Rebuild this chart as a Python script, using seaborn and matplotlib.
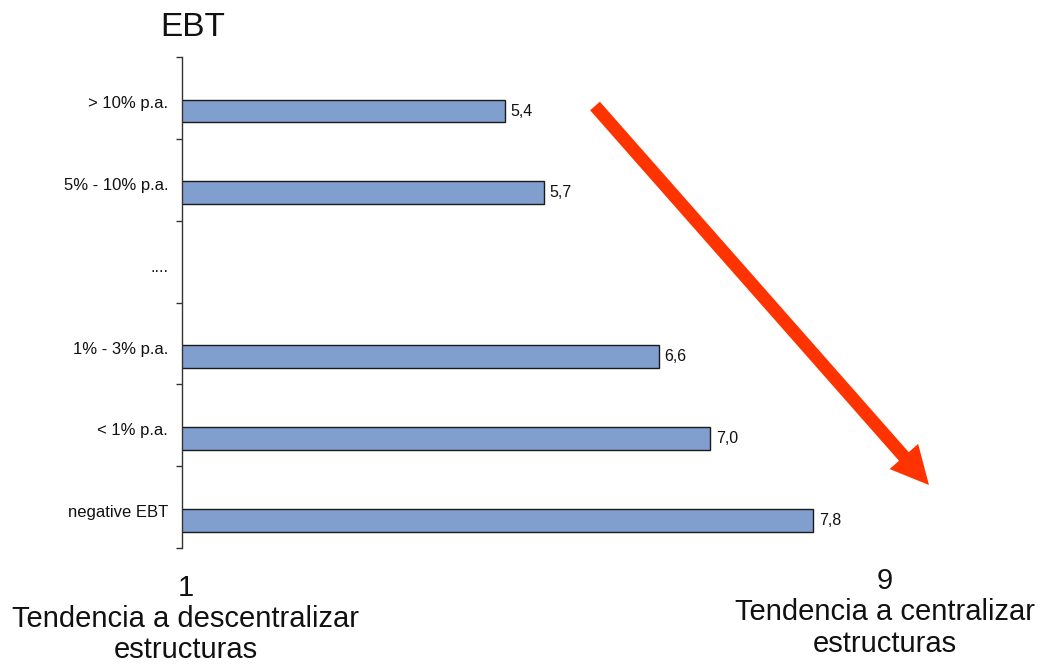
import matplotlib
matplotlib.use("Agg")
import matplotlib.pyplot as plt
import matplotlib.transforms as mtransforms
from matplotlib.patches import FancyArrow
import numpy as np
import pandas as pd
import seaborn as sns

# ---- data ----
categories = ["> 10% p.a.", "5% - 10% p.a.", "....", "1% - 3% p.a.", "< 1% p.a.", "negative EBT"]
values = [5.4, 5.7, np.nan, 6.6, 7.0, 7.8]
title_text = "EBT"
left_label = "1\nTendencia a descentralizar\nestructuras"
right_label = "9\nTendencia a centralizar\nestructuras"

sns.set_theme(style="white")
plt.rcParams["font.family"] = ["Liberation Sans", "DejaVu Sans"]

W, H = 1048, 668
fig = plt.figure(figsize=(W / 100, H / 100), dpi=100)
fig.patch.set_facecolor("white")

ax_left, ax_right, ax_top, ax_bottom = 182, 967, 57, 548
ax = fig.add_axes([ax_left / W, 1 - ax_bottom / H, (ax_right - ax_left) / W, (ax_bottom - ax_top) / H])

df = pd.DataFrame({"cat": categories, "val": values})
sns.barplot(data=df, y="cat", x="val", order=categories, orient="h",
            color="#819FCE", saturation=1, width=0.28,
            edgecolor="#1a1a1a", linewidth=1.0, ax=ax)

ax.set_xlim(2.88, 9.0)
n = len(categories)
ax.set_ylim(n - 1 + 0.34, -0.66)

# value labels
for i, v in enumerate(values):
    if not np.isnan(v):
        ax.annotate(f"{v:.1f}".replace(".", ","), xy=(v, i), xytext=(4, 0),
                    textcoords="offset points", ha="left", va="center",
                    fontsize=11.5, color="#111111")

# ticks: major = band boundaries, minor = labels
ax.set_yticks([i + 0.34 for i in range(-1, n)])
ax.set_yticklabels([])
ax.set_yticks([i - 0.11 for i in range(n)], minor=True)
ax.set_yticklabels(categories, minor=True, fontsize=12, color="#111111")
ax.tick_params(axis="y", which="major", length=4, width=1, direction="out", color="#333333", left=True)
ax.tick_params(axis="y", which="minor", length=0, pad=10, left=True)
ax.set_xticks([])
ax.set_xlabel("")
ax.set_ylabel("")
for s in ["top", "right", "bottom"]:
    ax.spines[s].set_visible(False)
ax.spines["left"].set_color("#333333")
ax.spines["left"].set_linewidth(1)
ax.set_facecolor("white")

# title
fig.text(193 / W, 1 - 27 / H, title_text, ha="center", va="center", fontsize=24, color="#111111")

# bottom annotations
fig.text(186 / W, 1 - 574 / H, left_label, ha="center", va="top", fontsize=21,
         linespacing=1.13, color="#111111")
fig.text(885 / W, 1 - 567 / H, right_label, ha="center", va="top", fontsize=21,
         linespacing=1.15, color="#111111")

# red arrow (pixel coords)
x0, y0 = 595, H - 106
x1, y1 = 929, H - 485
arrow = FancyArrow(x0, y0, x1 - x0, y1 - y0, width=13, head_width=38, head_length=38,
                   length_includes_head=True, color="#FF3300", lw=0,
                   transform=mtransforms.IdentityTransform())
fig.add_artist(arrow)

fig.savefig("out.png", dpi=100, facecolor="white")
